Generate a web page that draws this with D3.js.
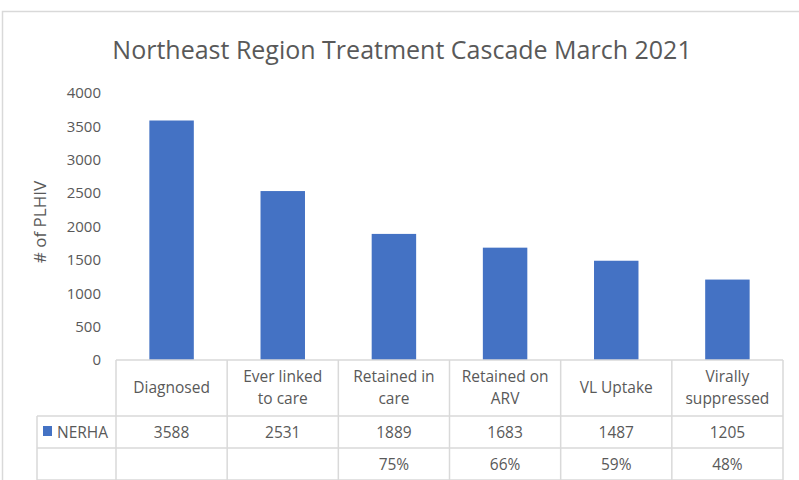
<!DOCTYPE html>
<html>
<head>
<meta charset="utf-8">
<script src="https://cdn.jsdelivr.net/npm/d3@7"></script>
<style>
  body { margin: 0; background: #fff; }
  text { font-family: "Open Sans", "Noto Sans", sans-serif; fill: #595959; }
</style>
</head>
<body>
<div id="chart"></div>
<script>
const categories = [
    ["Diagnosed"],
    ["Ever linked", "to care"],
    ["Retained in", "care"],
    ["Retained on", "ARV"],
    ["VL Uptake"],
    ["Virally", "suppressed"]
];
const values = [3588, 2531, 1889, 1683, 1487, 1205];
const percents = ["", "", "75%", "66%", "59%", "48%"];
const yTicks = [0, 500, 1000, 1500, 2000, 2500, 3000, 3500, 4000];
const seriesName = "NERHA";

const W = 799, H = 480;
const plotLeft = 116, plotRight = 783;
const plotTop = 93, plotBottom = 360;
const legendLeft = 37;
const rowY = [360, 416, 448, 480];
const gridColor = "#d9d9d9";
const barColor = "#4472c4";

const svg = d3.select('#chart')
    .append('svg')
    .attr('width', W)
    .attr('height', H);

// chart border
svg.append('rect')
    .attr('x', 2.5).attr('y', 11.5)
    .attr('width', W + 10).attr('height', H)
    .attr('fill', 'none')
    .attr('stroke', gridColor)
    .attr('stroke-width', 1.5);

// title
svg.append('text')
    .attr('x', 402)
    .attr('y', 59)
    .attr('text-anchor', 'middle')
    .style('font-size', '25px')
    .text('Northeast Region Treatment Cascade March 2021');

const xScale = d3.scaleBand()
    .domain(d3.range(categories.length))
    .range([plotLeft, plotRight])
    .paddingInner(0.6)
    .paddingOuter(0.3);

const colScale = d3.scaleBand()
    .domain(d3.range(categories.length))
    .range([plotLeft, plotRight]);

const yScale = d3.scaleLinear()
    .domain([0, 4000])
    .range([plotBottom, plotTop]);

// y axis labels
const yAxis = svg.append('g')
    .attr('transform', `translate(${plotLeft - 15}, 0)`)
    .call(d3.axisLeft(yScale).tickValues(yTicks).tickFormat(d3.format('d')).tickSize(0).tickPadding(0));
yAxis.select('.domain').remove();
yAxis.selectAll('text')
    .style('font-size', '15px')
    .style('font-family', '"Open Sans", "Noto Sans", sans-serif')
    .attr('fill', '#595959');

svg.append('text')
    .attr('transform', 'rotate(-90)')
    .attr('x', -222)
    .attr('y', 46)
    .attr('text-anchor', 'middle')
    .style('font-size', '17px')
    .text('# of PLHIV');

// bars
svg.selectAll('rect.bar')
    .data(values)
    .enter()
    .append('rect')
    .attr('class', 'bar')
    .attr('x', (d, i) => xScale(i))
    .attr('width', xScale.bandwidth())
    .attr('y', d => yScale(d))
    .attr('height', d => yScale(0) - yScale(d))
    .attr('fill', barColor);

// data table lines
const table = svg.append('g').attr('stroke', gridColor).attr('stroke-width', 1.5);
table.append('line')
    .attr('x1', plotLeft).attr('x2', plotRight)
    .attr('y1', rowY[0]).attr('y2', rowY[0]);
rowY.slice(1).forEach(y => {
    table.append('line')
        .attr('x1', legendLeft).attr('x2', plotRight)
        .attr('y1', y).attr('y2', y);
});
d3.range(categories.length + 1).forEach(i => {
    const x = i < categories.length ? colScale(i) : plotRight;
    table.append('line')
        .attr('x1', x).attr('x2', x)
        .attr('y1', rowY[0]).attr('y2', H);
});
table.append('line')
    .attr('x1', legendLeft).attr('x2', legendLeft)
    .attr('y1', rowY[1]).attr('y2', H);

// category headers
categories.forEach((lines, i) => {
    const cx = colScale(i) + colScale.bandwidth() / 2;
    const mid = (rowY[0] + rowY[1]) / 2;
    lines.forEach((t, j) => {
        svg.append('text')
            .attr('x', cx)
            .attr('y', mid + (j - (lines.length - 1) / 2) * 22 + 5)
            .attr('text-anchor', 'middle')
            .style('font-size', '15.5px')
            .text(t);
    });
});

// value row
values.forEach((v, i) => {
    svg.append('text')
        .attr('x', colScale(i) + colScale.bandwidth() / 2)
        .attr('y', (rowY[1] + rowY[2]) / 2 + 6)
        .attr('text-anchor', 'middle')
        .style('font-size', '15.5px')
        .text(v);
});

// percent row
percents.forEach((p, i) => {
    svg.append('text')
        .attr('x', colScale(i) + colScale.bandwidth() / 2)
        .attr('y', (rowY[2] + rowY[3]) / 2 + 6)
        .attr('text-anchor', 'middle')
        .style('font-size', '15.5px')
        .text(p);
});

// legend key
svg.append('rect')
    .attr('x', 43).attr('y', 426)
    .attr('width', 9).attr('height', 10)
    .attr('fill', barColor);
svg.append('text')
    .attr('x', 57)
    .attr('y', (rowY[1] + rowY[2]) / 2 + 6)
    .style('font-size', '15.5px')
    .text(seriesName);
</script>
</body>
</html>
